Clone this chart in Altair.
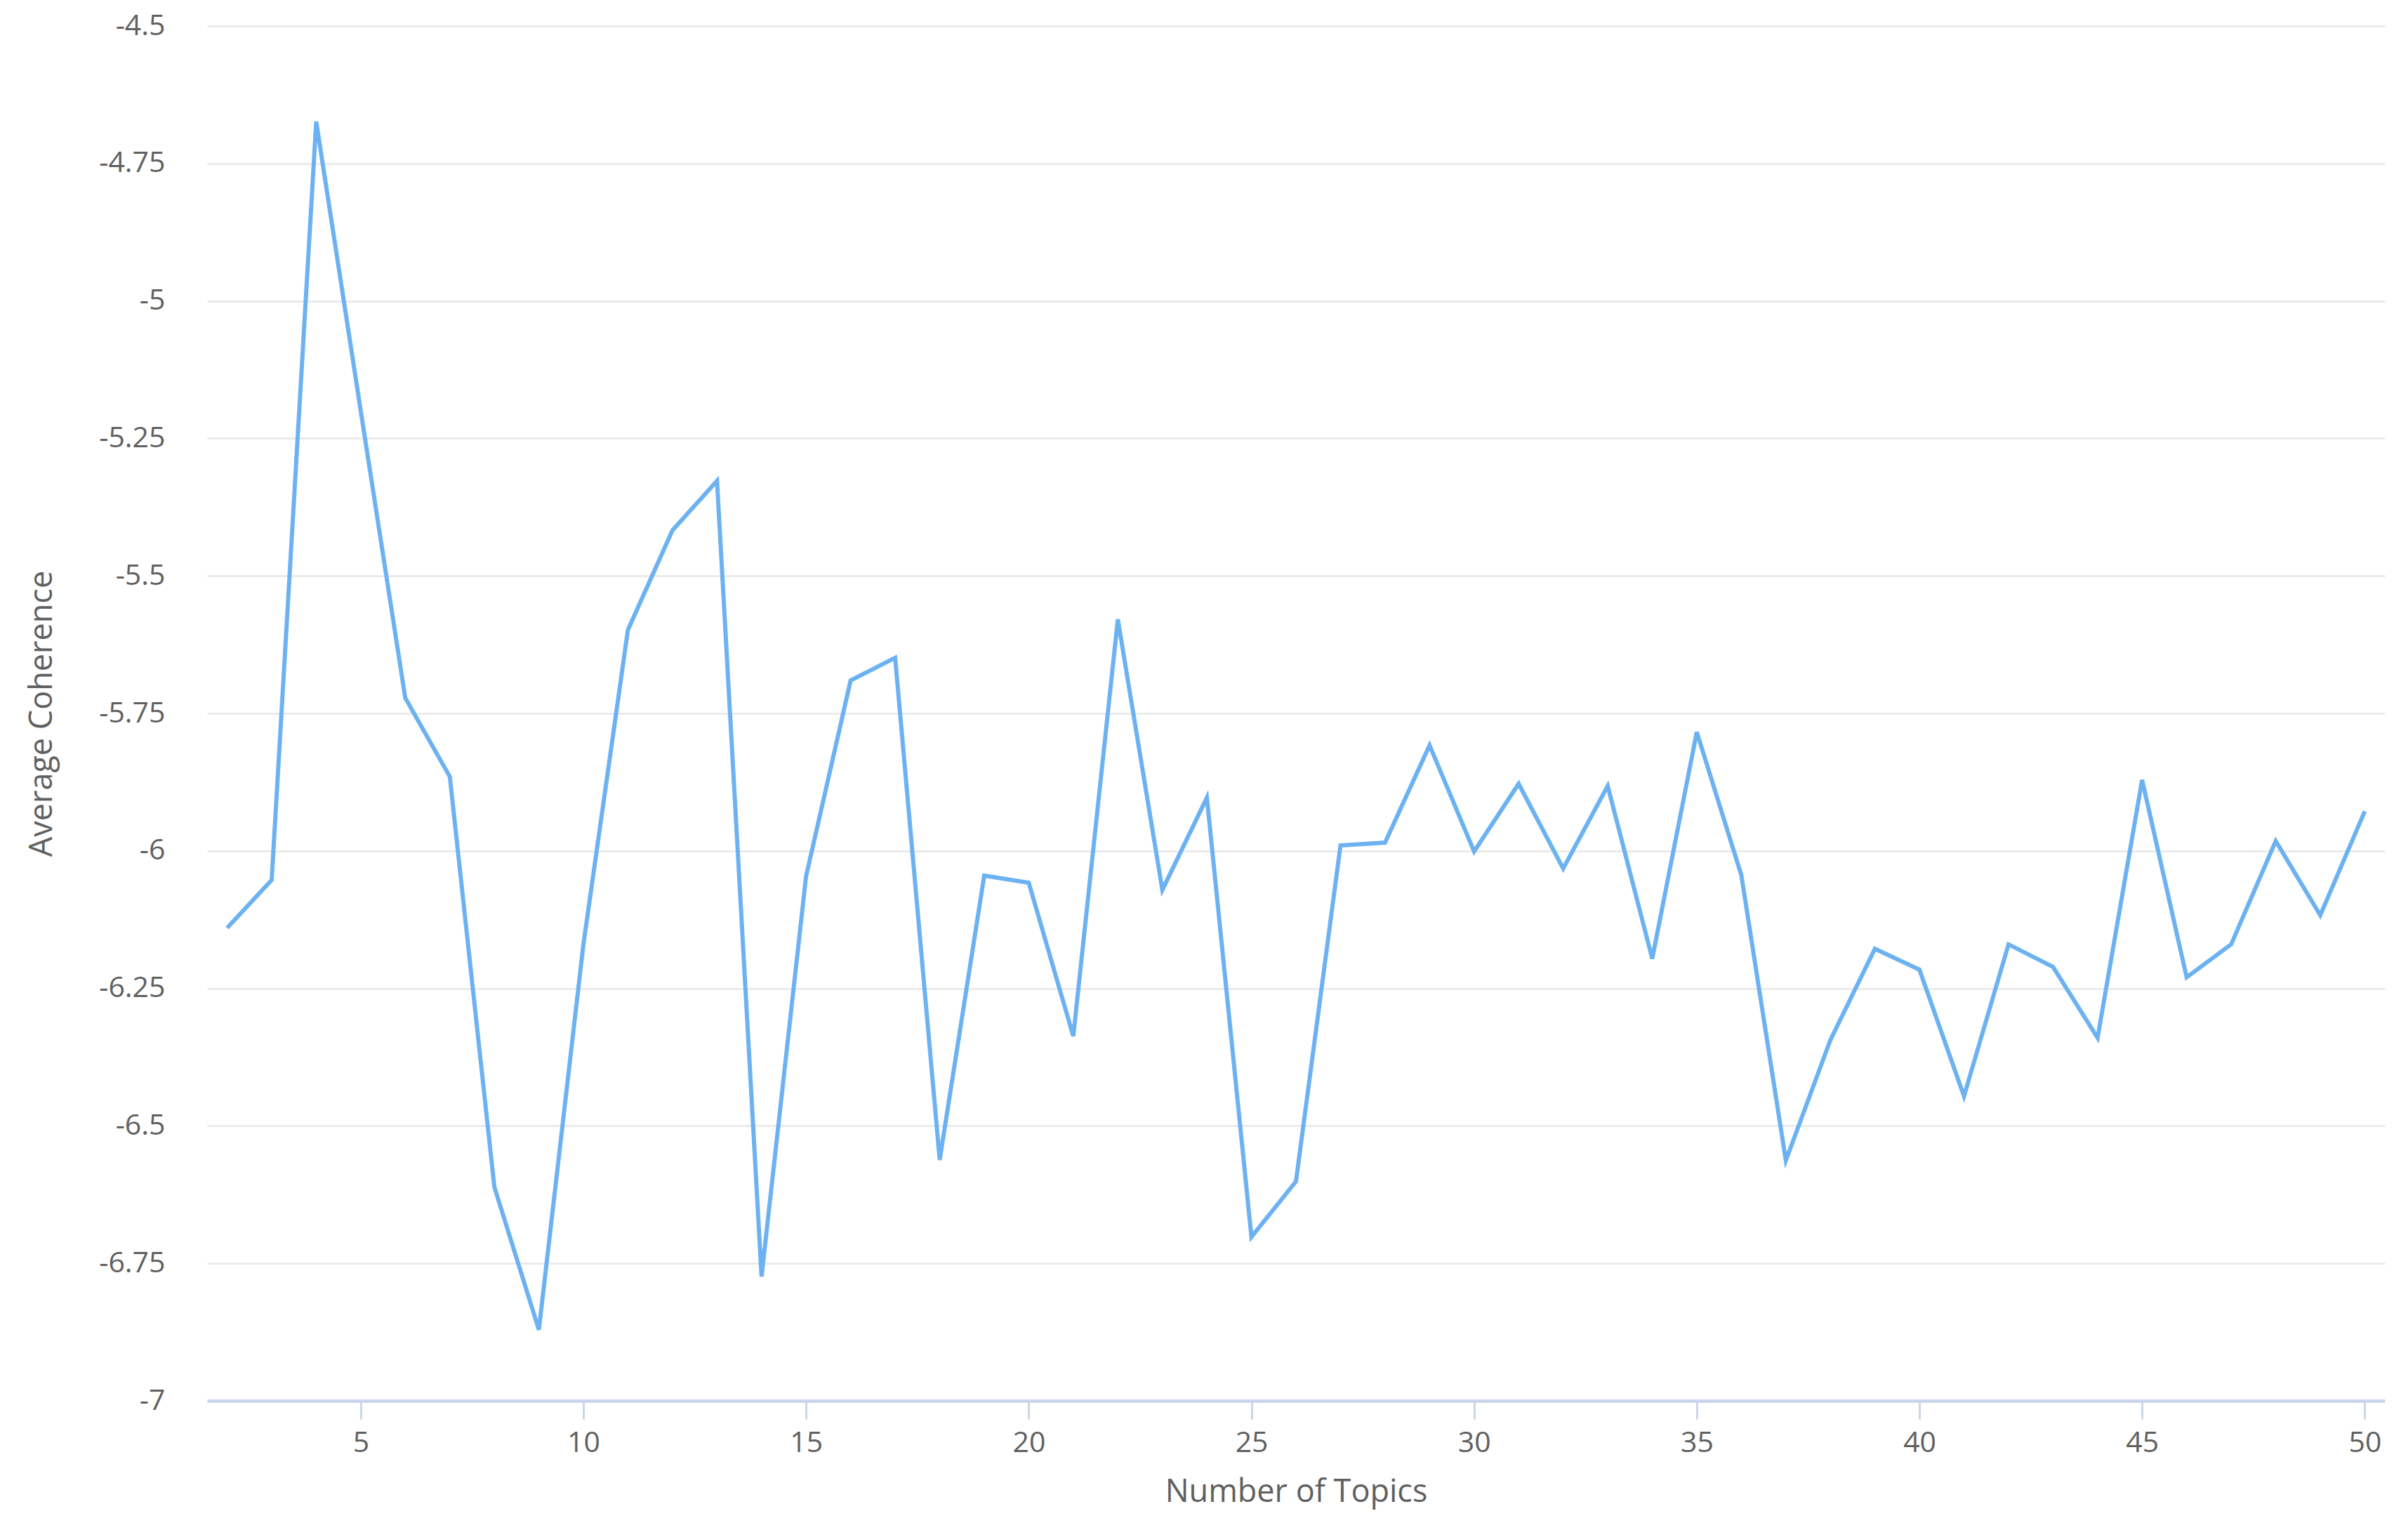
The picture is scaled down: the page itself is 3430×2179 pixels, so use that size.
import altair as alt
import pandas as pd

topics = list(range(2, 51))
coherence = [
    -6.140, -6.053, -4.674, -5.200, -5.722, -5.865, -6.611, -6.871, -6.170, -5.598,
    -5.417, -5.327, -6.774, -6.046, -5.690, -5.649, -6.562, -6.045, -6.058, -6.337,
    -5.579, -6.071, -5.903, -6.702, -6.601, -5.990, -5.985, -5.808, -6.001, -5.878,
    -6.032, -5.882, -6.196, -5.784, -6.044, -6.563, -6.344, -6.178, -6.216, -6.446,
    -6.170, -6.211, -6.340, -5.871, -6.230, -6.170, -5.982, -6.117, -5.928,
]
y_ticks = [-7, -6.75, -6.5, -6.25, -6, -5.75, -5.5, -5.25, -5, -4.75, -4.5]
x_ticks = [5, 10, 15, 20, 25, 30, 35, 40, 45, 50]

df = pd.DataFrame({"topics": topics, "coherence": coherence})

FONT = "Open Sans"
LABEL_COLOR = "#606060"

chart = (
    alt.Chart(df)
    .mark_line(color="#6cb2f2", strokeWidth=6, strokeJoin="miter")
    .encode(
        x=alt.X(
            "topics:Q",
            scale=alt.Scale(domain=[1.55, 50.45], nice=False, zero=False),
            axis=alt.Axis(
                values=x_ticks,
                title="Number of Topics",
                grid=False,
                domainColor="#ccd6eb",
                domainWidth=5,
                tickColor="#ccd6eb",
                tickWidth=3,
                tickSize=26,
                labelPadding=34,
                labelBaseline="middle",
                labelFont=FONT,
                labelFontSize=41,
                labelColor=LABEL_COLOR,
                labelFlush=False,
                titleFont=FONT,
                titleFontSize=45,
                titleFontWeight="normal",
                titleColor=LABEL_COLOR,
                titleX=1551,
                titleY=129,
                titleBaseline="middle",
                titleAlign="center",
                titleAnchor="middle",
            ),
        ),
        y=alt.Y(
            "coherence:Q",
            scale=alt.Scale(domain=[-7, -4.5], nice=False, zero=False),
            axis=alt.Axis(
                values=y_ticks,
                labelExpr="'' + datum.value",
                title="Average Coherence",
                domain=False,
                ticks=False,
                grid=True,
                gridColor="#ebebeb",
                gridWidth=3,
                labelPadding=60,
                labelFont=FONT,
                labelFontSize=41,
                labelColor=LABEL_COLOR,
                labelFlush=False,
                titleFont=FONT,
                titleFontSize=45,
                titleFontWeight="normal",
                titleColor=LABEL_COLOR,
                titleX=-236,
                titleY=979,
                titleAngle=270,
                titleBaseline="middle",
                titleAlign="center",
            ),
        ),
    )
    .properties(
        width=3102,
        height=1958,
        autosize=alt.AutoSizeParams(type="none"),
        padding={"left": 287, "top": 29, "right": 25, "bottom": 176},
    )
    .configure(background="white")
    .configure_view(strokeWidth=0, strokeOpacity=0)
)

chart.save("out.html", embed_options={"renderer": "svg", "actions": False})
